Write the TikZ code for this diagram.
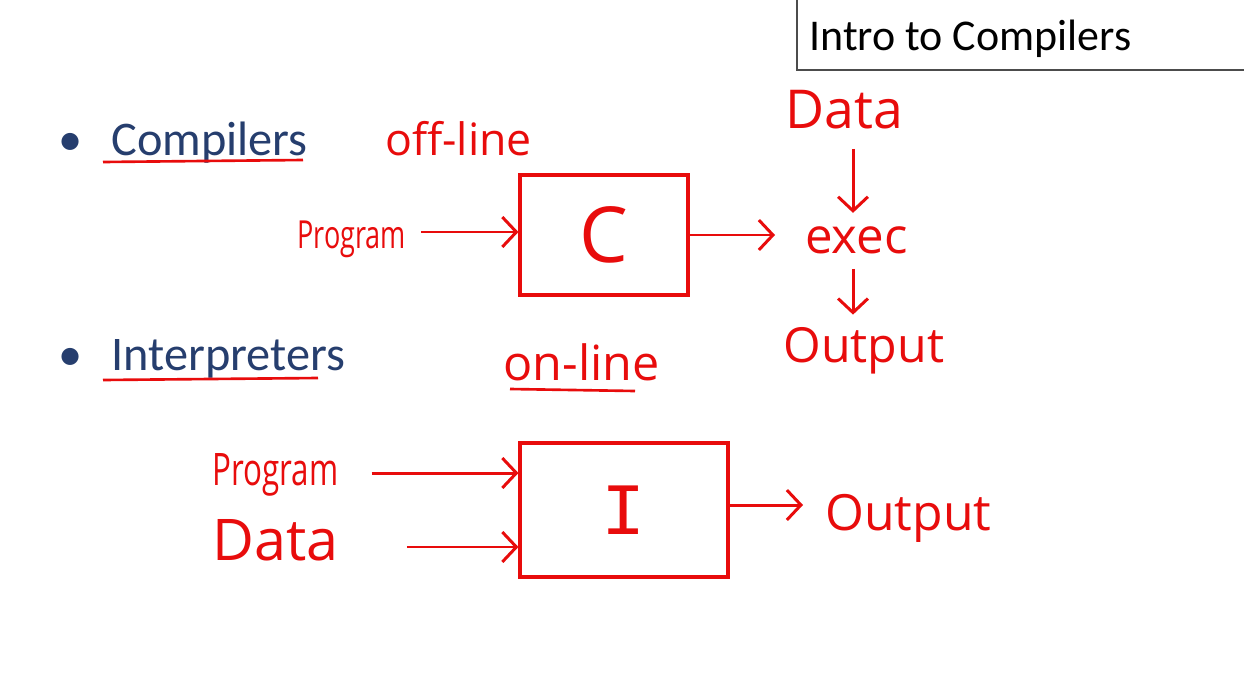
\documentclass[tikz,border=0pt]{standalone}
\usepackage{fontspec}
\setmainfont{Carlito}
\newfontfamily\handfont{Open Sans}
\newfontfamily\handnarrow[FakeStretch=0.7]{Open Sans}
\newfontfamily\monofont{Liberation Mono}
\usetikzlibrary{arrows.meta}
\definecolor{ink}{RGB}{232,12,12}
\definecolor{slideblue}{RGB}{38,62,110}
\tikzset{
  hand/.style={text=ink, font=\handfont\fontsize{#1}{#1}\selectfont, inner sep=0pt, anchor=base west},
  handn/.style={text=ink, font=\handnarrow\fontsize{#1}{#1}\selectfont, inner sep=0pt, anchor=base west},
  handbox/.style={draw=ink, line width=1.8pt, inner sep=0pt, text=ink},
  flow/.style={draw=ink, line width=1.7pt, -{Straight Barb[length=8pt,width=17pt,line width=1.7pt]}},
  uline/.style={draw=ink, line width=1.5pt},
  bullettext/.style={text=slideblue, font=\fontsize{27.5}{30}\selectfont, inner sep=0pt, anchor=base west},
  bulletdot/.style={text=slideblue, font=\fontsize{27.5}{30}\selectfont, inner sep=0pt, anchor=base},
}
\begin{document}
\begin{tikzpicture}[x=0.02cm,y=-0.02cm]
\useasboundingbox[fill=white] (0,0) rectangle (1244,690);
% title box
\draw[draw=black!70, line width=0.8pt] (797,-2) -- (797,70) -- (1246,70);
\node[font=\fontsize{25}{29}\selectfont, anchor=base west, inner sep=0pt] (title) at (809,50) {Intro to Compilers};
% bullets
\node[bulletdot] (b1) at (71,155) {\textbullet};
\node[bullettext] (comp) at (111,155) {Compilers};
\node[bulletdot] (b2) at (71,370) {\textbullet};
\node[bullettext] (interp) at (111,370) {Interpreters};
\coordinate (u1a) at (103,162); \coordinate (u1b) at (303,160);
\draw[uline] (u1a) -- (u1b);
\coordinate (u2a) at (103,380); \coordinate (u2b) at (318,378);
\draw[uline] (u2a) -- (u2b);
% compiler diagram
\node[hand=25.4] (offline) at (385,155) {off-line};
\node[handn=22] (prog1) at (297,248) {Program};
\node[handbox, minimum width=3.36cm, minimum height=2.4cm, font=\handfont\fontsize{44}{44}\selectfont] (cbox) at (604,235) {C};
\node[hand=30.5] (data1) at (785,128) {Data};
\node[hand=28] (exec) at (805,253) {exec};
\node[hand=27.5] (out1) at (783,362) {Output};
\coordinate (cin) at (cbox.west |- 0,232);
\draw[flow] ([xshift=0.3cm]prog1.east |- cin) -- (cin);
\path ([xshift=-0.6cm]exec.west) coordinate (execin);
\draw[flow] (cbox.east) -- (execin |- cbox.east);
\coordinate (ax) at (853,0);
\draw[flow] ([yshift=-0.4cm]data1.south -| ax) -- ([yshift=0.26cm]exec.north -| ax);
\draw[flow] ([yshift=-0.3cm]exec.south -| ax) -- ([yshift=0.24cm]out1.north -| ax);
% interpreter diagram
\node[hand=27.6] (online) at (503,380) {on-line};
\coordinate (u3a) at (510,389); \coordinate (u3b) at (635,391);
\draw[uline] (u3a) -- (u3b);
\node[handbox, minimum width=4.16cm, minimum height=2.68cm, font=\monofont\fontsize{42}{42}\selectfont] (ibox) at (624,510) {I};
\node[handn=25.5] (prog2) at (212,485) {Program};
\node[hand=32.7] (data2) at (212,560) {Data};
\node[hand=28.4] (out2) at (825,530) {Output};
\coordinate (i1) at ([yshift=0.74cm]ibox.west);
\coordinate (i2) at ([yshift=-0.74cm]ibox.west);
\draw[flow] ([xshift=0.66cm]prog2.east |- i1) -- (i1);
\draw[flow] ([xshift=1.36cm]data2.east |- i2) -- (i2);
\coordinate (io) at ([yshift=0.1cm]ibox.east);
\draw[flow] (io) -- ([xshift=-0.44cm]out2.west |- io);
\end{tikzpicture}
\end{document}
